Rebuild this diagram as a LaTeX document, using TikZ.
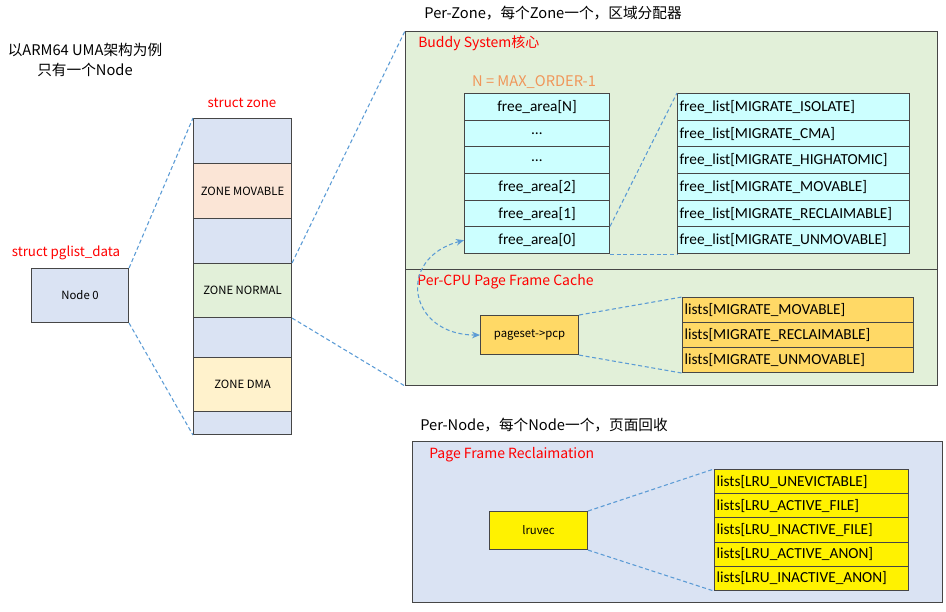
\documentclass[tikz,border=0pt]{standalone}
\usepackage{fontspec}
\setmainfont{Carlito}
\newfontfamily\cjk{Noto Sans CJK SC}
\usetikzlibrary{arrows.meta}

\definecolor{boxline}{RGB}{70,70,70}
\definecolor{linkblue}{RGB}{91,155,213}
\definecolor{greyblue}{RGB}{218,227,243}
\definecolor{peach}{RGB}{251,229,214}
\definecolor{palegreen}{RGB}{226,240,217}
\definecolor{cream}{RGB}{255,242,204}
\definecolor{palecyan}{RGB}{204,255,255}
\definecolor{gold}{RGB}{255,217,102}
\definecolor{labelred}{RGB}{255,0,0}
\definecolor{labelorange}{RGB}{240,150,90}

\tikzset{
	cell/.style={draw=boxline, line width=0.8pt, inner sep=0pt, anchor=north west},
	smallcell/.style={cell, font=\cjk\fontsize{8.5}{10}\selectfont},
	listcell/.style={cell, text width=#1, align=left, inner xsep=1.5pt, font=\fontsize{11.5}{13}\selectfont},
	link/.style={draw=linkblue, line width=0.8pt, dash pattern=on 3pt off 2pt},
	title/.style={font=\cjk\fontsize{11}{15}\selectfont, inner sep=0pt},
	redtitle/.style={font=\cjk\fontsize{10.5}{15}\selectfont, inner sep=0pt, text=labelred, anchor=west}
}

\begin{document}
\begin{tikzpicture}[x=0.75pt, y=-0.75pt]
	\useasboundingbox (0,0) rectangle (946,611);

	\node[title, align=center] (arch) at (85,60) {以ARM64 UMA架构为例\\只有一个Node};

	\node[redtitle, anchor=center, font=\cjk\fontsize{10}{15}\selectfont] (pgdatlabel) at (66,253) {struct pglist\_data};
	\node[smallcell, fill=greyblue, minimum width=72.75pt, minimum height=40.5pt] (node0) at (31,268) {Node 0};

	\node[redtitle, anchor=center, font=\cjk\fontsize{10}{15}\selectfont] (zonelabel) at (242,103) {struct zone};
	\foreach \n/\y/\h/\c/\t in {z1/118/45/greyblue/, zmov/163/55/peach/ZONE MOVABLE, z2/218/45/greyblue/, znorm/263/54/palegreen/ZONE NORMAL, z3/317/40/greyblue/, zdma/357/54/cream/ZONE DMA, z4/411/23/greyblue/}
		\node[smallcell, fill=\c, minimum width=73.5pt, minimum height=\h*0.75pt] (\n) at (193,\y) {\t};

	\node[title] (perzone) at (553,13) {Per-Zone，每个Zone一个，区域分配器};
	\node[cell, fill=palegreen, minimum width=399pt, minimum height=178.5pt] (buddy) at (405,31) {};
	\node[cell, fill=palegreen, minimum width=399pt, minimum height=87pt] (percpu) at (405,269) {};
	\node[redtitle] (buddylabel) at (418,43) {Buddy System核心};
	\node[title, text=labelorange] (orderlabel) at (534,82) {N = MAX\_ORDER-1};

	\foreach \t [count=\i] in {free\_area[N], …, …, free\_area[2], free\_area[1], free\_area[0]}
		\node[cell, fill=palecyan, minimum width=108.75pt, minimum height=20pt, font=\fontsize{11.5}{13}\selectfont] (fa\i) at (464,{93+(\i-1)*26.67}) {\t};
	\foreach \t [count=\i] in {ISOLATE, CMA, HIGHATOMIC, MOVABLE, RECLAIMABLE, UNMOVABLE}
		\node[listcell=171pt, fill=palecyan, minimum height=20pt] (fl\i) at (677,{93+(\i-1)*26.67}) {free\_list[MIGRATE\_\t]};

	\node[redtitle] (pcplabel) at (417,282) {Per-CPU Page Frame Cache};
	\node[smallcell, fill=gold, minimum width=73.5pt, minimum height=29.25pt] (pcp) at (480,315) {pageset->pcp};
	\foreach \t [count=\i] in {MOVABLE, RECLAIMABLE, UNMOVABLE}
		\node[listcell=170.25pt, fill=gold, minimum height=18.75pt] (ml\i) at (682,{297+(\i-1)*25}) {lists[MIGRATE\_\t]};

	\node[title, anchor=west] (pernode) at (420,425) {Per-Node，每个Node一个，页面回收};
	\node[cell, fill=greyblue, minimum width=397.5pt, minimum height=120.75pt] (reclaim) at (412,441) {};
	\node[redtitle] (reclaimlabel) at (429,455) {Page Frame Reclaimation};
	\node[smallcell, fill=yellow, minimum width=73.5pt, minimum height=28.5pt] (lru) at (489,511) {lruvec};
	\foreach \t [count=\i] in {UNEVICTABLE, ACTIVE\_FILE, INACTIVE\_FILE, ACTIVE\_ANON, INACTIVE\_ANON}
		\node[listcell=142.5pt, fill=yellow, minimum height=18.15pt] (lr\i) at (714,{469+(\i-1)*24.2}) {lists[LRU\_\t]};

	\draw[link] (node0.north east) -- (z1.north west);
	\draw[link] (node0.south east) -- (z4.south west);
	\draw[link] (znorm.north east) -- (buddy.north west);
	\draw[link] (znorm.south east) -- (percpu.south west);
	\draw[link] (fa6.north east) -- (fl1.north west);
	\draw[link] (fa6.south east) -- (fl6.south west);
	\draw[link] (pcp.north east) -- (ml1.north west);
	\draw[link] (pcp.south east) -- (ml3.south west);
	\draw[link] (lru.north east) -- (lr1.north west);
	\draw[link] (lru.south east) -- (lr5.south west);
	\draw[link, {Stealth[length=6pt,width=5pt]}-{Stealth[length=6pt,width=5pt]}] (fa6.west) to[out=195, in=180, looseness=1.9] (pcp.west);
\end{tikzpicture}
\end{document}
